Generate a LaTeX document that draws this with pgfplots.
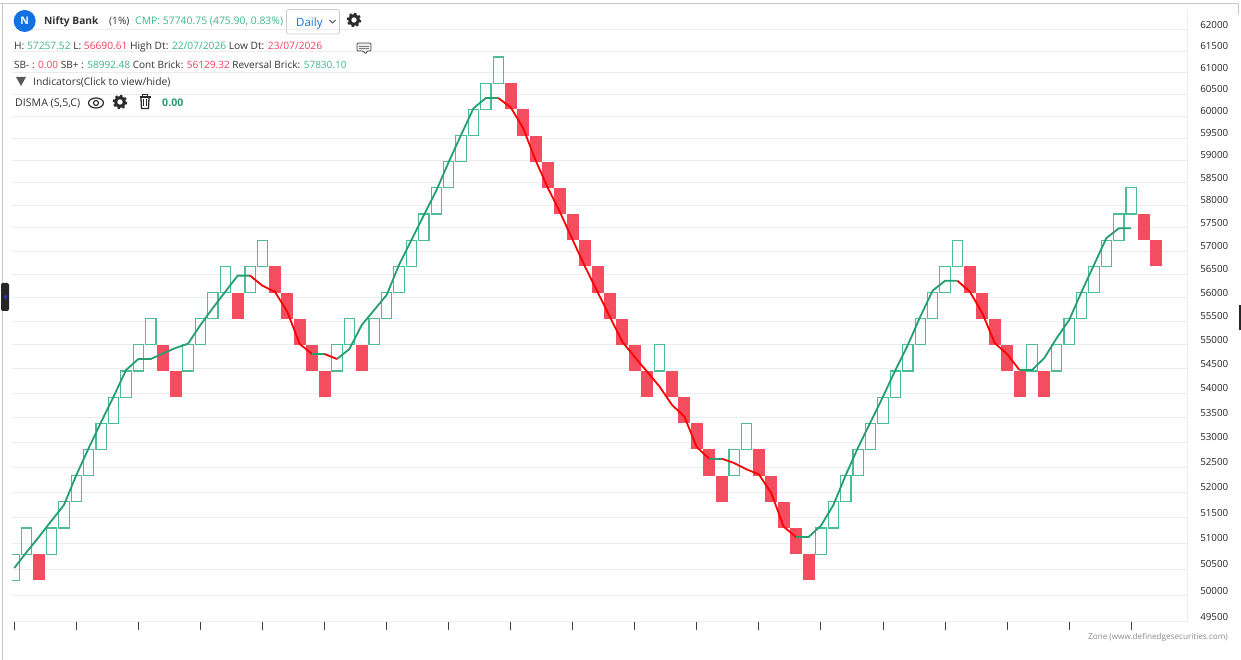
\documentclass[border=0pt]{standalone}
\usepackage{fontspec}
\setmainfont{Open Sans}
\usepackage{pgfplots}
\usepackage{pgfplotstable}
\pgfplotsset{compat=1.18}
\definecolor{brickgreen}{HTML}{4DBD95}
\definecolor{brickred}{HTML}{F54D60}
\definecolor{linegreen}{HTML}{259E70}
\definecolor{linered}{HTML}{FF0000}
\definecolor{txtgreen}{HTML}{3FB68B}
\definecolor{txtred}{HTML}{F5405A}
\definecolor{txtdark}{HTML}{333333}
\definecolor{gridc}{HTML}{ECECEC}
\definecolor{framec}{HTML}{C8C8C8}
\definecolor{iconc}{HTML}{2B2B2B}
\definecolor{badge}{HTML}{1270E0}
\newcommand\G[3]{\pgfmathsetmacro\xa{#1-0.415}\pgfmathsetmacro\xb{#1+0.415}%
  \addplot[draw=brickgreen,line width=1.15pt,line join=miter,no marks,sharp plot,forget plot] coordinates {(\xa,#2)(\xb,#2)(\xb,#3)(\xa,#3)} --cycle;}
\newcommand\R[3]{\pgfmathsetmacro\xa{#1-0.483}\pgfmathsetmacro\xb{#1+0.483}%
  \addplot[draw=none,fill=brickred,no marks,sharp plot,forget plot] coordinates {(\xa,#2)(\xb,#2)(\xb,#3)(\xa,#3)} --cycle;}
\pgfplotstableread{
i v
0 50527
1 50835
2 51132
3 51444
4 51752
5 52346
6 52886
7 53411
8 53927
9 54478
10 54706
11 54706
12 54825
13 54935
14 55025
15 55418
16 55777
17 56124
18 56467
19 56467
20 56252
21 56124
22 55699
23 55019
24 54810
25 54810
26 54706
27 54914
28 55418
29 55735
30 56054
31 56697
32 57238
33 57785
34 58321
35 58961
36 59570
37 60178
38 60414
39 60414
40 60200
41 59729
42 59006
43 58381
44 57829
45 57238
46 56654
47 56118
48 55587
49 55061
50 54748
51 54442
52 54133
53 53758
54 53519
55 52900
56 52671
57 52671
58 52585
59 52459
60 52359
61 51983
62 51327
63 51126
64 51126
65 51346
66 51752
67 52346
68 52900
69 53411
70 53927
71 54478
72 54998
73 55593
74 56145
75 56359
76 56359
77 56124
78 55671
79 55040
80 54810
81 54478
82 54478
83 54727
84 55145
85 55523
86 56124
87 56697
88 57282
89 57493
90 57493
}\dismatable
\newcommand\T[4][10.2]{\node[anchor=base west,inner sep=0pt,text=txtdark] at (#2,#3) {\fontsize{#1}{13}\selectfont #4};}
\newcommand\gear[2]{%
  \draw[iconc,line width=2pt,dash pattern=on 2.4pt off 2.44pt] (#1,#2) circle (6.2);
  \fill[iconc] (#1,#2) circle (5.8);
  \fill[white] (#1,#2) circle (2.7);}
\begin{document}
\begin{tikzpicture}
\useasboundingbox (0,0) rectangle (1241pt,660pt);
\fill[white] (0,0) rectangle (1241pt,660pt);
\begin{axis}[
  at={(12pt,38pt)},anchor=south west,
  scale only axis,width=1175pt,height=613pt,
  y coord trafo/.code={\begingroup\pgfkeys{/pgf/fpu,/pgf/fpu/output format=fixed}\pgfmathparse{1000*ln(#1)}\pgfmathsmuggle\pgfmathresult\endgroup},
  xmin=-0.185,xmax=94.5,ymin=49500,ymax=62494,
  scaled ticks=false,
  axis line style={draw=none},
  xtick={0,5,...,90},xticklabels={},
  xtick pos=bottom,xtick align=outside,
  major tick length=8pt,
  xtick style={draw=black!75,line width=1pt},
  ytick={49500,50000,50500,51000,51500,52000,52500,53000,53500,54000,54500,55000,55500,56000,56500,57000,57500,58000,58500,59000,59500,60000,60500,61000,61500,62000},
  yticklabels={49500,50000,50500,51000,51500,52000,52500,53000,53500,54000,54500,55000,55500,56000,56500,57000,57500,58000,58500,59000,59500,60000,60500,61000,61500,62000},
  minor ytick={},
  ytick style={draw=none},
  yticklabel pos=right,
  yticklabel style={anchor=base west,xshift=13pt,yshift=1.5pt,font=\fontsize{9.8}{13}\selectfont,text=black!85,inner sep=0pt},
  ymajorgrids,
  major grid style={draw=gridc,line width=1pt},
  /pgf/number format/assume math mode=true,
]
\G{0}{50291}{50794}
\G{1}{50794}{51302}
\R{2}{50291}{50794}
\G{3}{50794}{51302}
\G{4}{51302}{51815}
\G{5}{51815}{52333}
\G{6}{52333}{52856}
\G{7}{52856}{53385}
\G{8}{53385}{53919}
\G{9}{53919}{54458}
\G{10}{54458}{55003}
\G{11}{55003}{55553}
\R{12}{54458}{55003}
\R{13}{53919}{54458}
\G{14}{54458}{55003}
\G{15}{55003}{55553}
\G{16}{55553}{56108}
\G{17}{56108}{56669}
\R{18}{55553}{56108}
\G{19}{56108}{56669}
\G{20}{56669}{57236}
\R{21}{56108}{56669}
\R{22}{55553}{56108}
\R{23}{55003}{55553}
\R{24}{54458}{55003}
\R{25}{53919}{54458}
\G{26}{54458}{55003}
\G{27}{55003}{55553}
\R{28}{54458}{55003}
\G{29}{55003}{55553}
\G{30}{55553}{56108}
\G{31}{56108}{56669}
\G{32}{56669}{57236}
\G{33}{57236}{57808}
\G{34}{57808}{58386}
\G{35}{58386}{58970}
\G{36}{58970}{59560}
\G{37}{59560}{60156}
\G{38}{60156}{60757}
\G{39}{60757}{61365}
\R{40}{60156}{60757}
\R{41}{59560}{60156}
\R{42}{58970}{59560}
\R{43}{58386}{58970}
\R{44}{57808}{58386}
\R{45}{57236}{57808}
\R{46}{56669}{57236}
\R{47}{56108}{56669}
\R{48}{55553}{56108}
\R{49}{55003}{55553}
\R{50}{54458}{55003}
\R{51}{53919}{54458}
\G{52}{54458}{55003}
\R{53}{53919}{54458}
\R{54}{53385}{53919}
\R{55}{52856}{53385}
\R{56}{52333}{52856}
\R{57}{51815}{52333}
\G{58}{52333}{52856}
\G{59}{52856}{53385}
\R{60}{52333}{52856}
\R{61}{51815}{52333}
\R{62}{51302}{51815}
\R{63}{50794}{51302}
\R{64}{50291}{50794}
\G{65}{50794}{51302}
\G{66}{51302}{51815}
\G{67}{51815}{52333}
\G{68}{52333}{52856}
\G{69}{52856}{53385}
\G{70}{53385}{53919}
\G{71}{53919}{54458}
\G{72}{54458}{55003}
\G{73}{55003}{55553}
\G{74}{55553}{56108}
\G{75}{56108}{56669}
\G{76}{56669}{57236}
\R{77}{56108}{56669}
\R{78}{55553}{56108}
\R{79}{55003}{55553}
\R{80}{54458}{55003}
\R{81}{53919}{54458}
\G{82}{54458}{55003}
\R{83}{53919}{54458}
\G{84}{54458}{55003}
\G{85}{55003}{55553}
\G{86}{55553}{56108}
\G{87}{56108}{56669}
\G{88}{56669}{57236}
\G{89}{57236}{57808}
\G{90}{57808}{58386}
\R{91}{57236}{57808}
\R{92}{56669}{57236}
% DISMA line, coloured by segment
\addplot[linegreen,line width=1.8pt,no marks,forget plot,restrict x to domain=0:19] table[x=i,y=v] {\dismatable};
\addplot[linered,line width=1.8pt,no marks,forget plot,restrict x to domain=19:24] table[x=i,y=v] {\dismatable};
\addplot[linegreen,line width=1.8pt,no marks,forget plot,restrict x to domain=24:25] table[x=i,y=v] {\dismatable};
\addplot[linered,line width=1.8pt,no marks,forget plot,restrict x to domain=25:26] table[x=i,y=v] {\dismatable};
\addplot[linegreen,line width=1.8pt,no marks,forget plot,restrict x to domain=26:39] table[x=i,y=v] {\dismatable};
\addplot[linered,line width=1.8pt,no marks,forget plot,restrict x to domain=39:56] table[x=i,y=v] {\dismatable};
\addplot[linegreen,line width=1.8pt,no marks,forget plot,restrict x to domain=56:57] table[x=i,y=v] {\dismatable};
\addplot[linered,line width=1.8pt,no marks,forget plot,restrict x to domain=57:63] table[x=i,y=v] {\dismatable};
\addplot[linegreen,line width=1.8pt,no marks,forget plot,restrict x to domain=63:76] table[x=i,y=v] {\dismatable};
\addplot[linered,line width=1.8pt,no marks,forget plot,restrict x to domain=76:81] table[x=i,y=v] {\dismatable};
\addplot[linegreen,line width=1.8pt,no marks,forget plot,restrict x to domain=81:90] table[x=i,y=v] {\dismatable};
\end{axis}
\begin{scope}[x=1pt,y=-1pt,yshift=660pt]
  % frame
  \draw[framec,line width=1pt] (0,3.5) -- (1238.5,3.5) -- (1238.5,15);
  \draw[framec,line width=1pt] (2.5,3.5) -- (2.5,660);
  \draw[gridc,line width=1pt] (1187,9) -- (1187,622);
  \fill[black!85,rounded corners=2pt] (1,283) rectangle (9,311);
  \fill[blue!80] (4,297) -- (6.5,294.5) -- (6.5,299.5) -- cycle;
  \fill[black!85] (1239,305) rectangle (1241,330);
  % title row
  \fill[badge] (24.7,21) circle (11);
  \node[text=white,inner sep=0pt,font=\bfseries\fontsize{10.5}{12}\selectfont] at (24.7,21) {N};
  \T{44}{24.5}{\textbf{Nifty Bank}}
  \T{109}{24.5}{(1\%)}
  \T[10.4]{135}{24.5}{\textcolor{txtgreen}{CMP: 57740.75 (475.90, 0.83\%)}}
  \draw[black!20,rounded corners=2pt,line width=0.8pt] (286.5,9.5) rectangle (339.5,34);
  \node[anchor=base west,inner sep=0pt,text=badge] at (296,27) {\fontsize{11.5}{13}\selectfont Daily};
  \draw[black!70,line width=1pt] (329.5,20) -- (332.5,23) -- (335.5,20);
  \gear{354}{20}
  % row 2
  \T{14}{49.5}{H: \textcolor{txtgreen}{57257.52} L: \textcolor{txtred}{56690.61} High Dt: \textcolor{txtgreen}{22/07/2026} Low Dt: \textcolor{txtred}{23/07/2026}}
  \draw[black!70,line width=0.8pt,fill=black!8,rounded corners=1pt] (357,43) -- (371,43) -- (371,51) -- (367,51) -- (366,54) -- (363,51) -- (357,51) -- cycle;
  \draw[black!50,line width=0.5pt] (359,46) -- (369,46) (359,48.5) -- (369,48.5);
  % row 3
  \T[10.05]{14}{68.5}{SB- : \textcolor{txtred}{0.00} SB+ : \textcolor{txtgreen}{58992.48} Cont Brick: \textcolor{txtred}{56129.32} Reversal Brick: \textcolor{txtgreen}{57830.10}}
  % row 4
  \fill[black!65] (16,77) -- (26,77) -- (21,86) -- cycle;
  \T[10.3]{33}{86}{Indicators(Click to view/hide)}
  % row 5
  \T[10.6]{15}{106.5}{DISMA (S,5,C)}
  \draw[iconc,line width=1.2pt] (96,103) ellipse (7.5 and 5);
  \draw[iconc,line width=1.2pt] (96,103) circle (2.5);
  \gear{120}{102}
  \draw[iconc,line width=1.3pt] (139.5,97) -- (150.5,97);
  \draw[iconc,line width=1pt] (142.5,96.5) -- (142.5,95) -- (147.5,95) -- (147.5,96.5);
  \draw[iconc,line width=1.3pt] (141,98) -- (141.5,108.5) -- (148.5,108.5) -- (149,98);
  \draw[iconc,line width=0.9pt] (143.8,99.5) -- (143.8,106.5) (146.2,99.5) -- (146.2,106.5);
  \node[anchor=base west,inner sep=0pt,text=linegreen] at (162,106.5) {\fontsize{10.6}{13}\selectfont\textbf{0.00}};
  % credit
  \node[anchor=base east,inner sep=0pt,text=black!45] at (1228,640) {\fontsize{8.15}{10}\selectfont Zone (www.definedgesecurities.com)};
\end{scope}
\end{tikzpicture}
\end{document}
